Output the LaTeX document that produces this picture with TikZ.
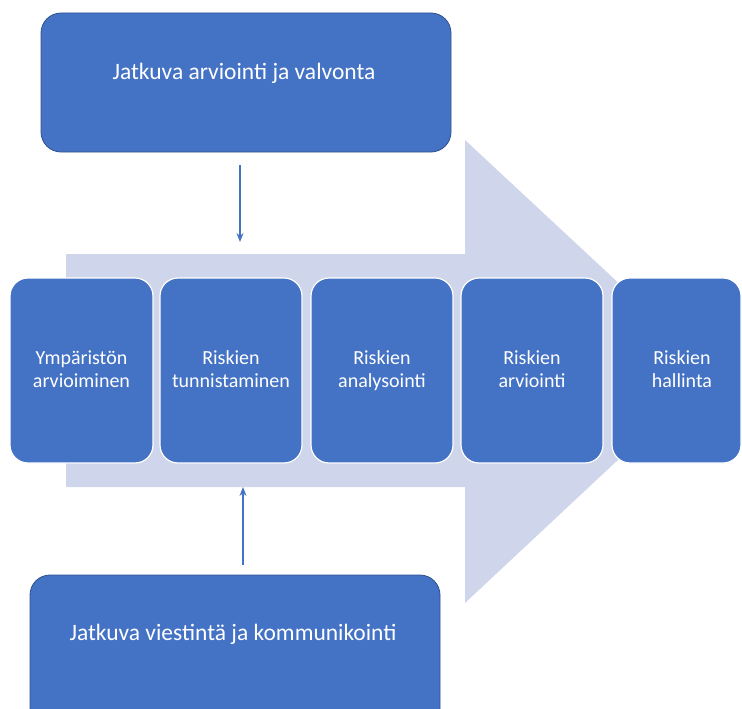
\documentclass[tikz,border=0pt]{standalone}
\usepackage{fontspec}
\setmainfont{Carlito}
\usetikzlibrary{arrows.meta}
\definecolor{boxblue}{HTML}{4472C4}
\definecolor{boxedge}{HTML}{2F528F}
\definecolor{arrowfill}{HTML}{CFD5EA}
\begin{document}
\begin{tikzpicture}[x=1pt,y=-1pt,
  bigbox/.style={fill=boxblue,draw=boxedge,line width=0.8pt,rounded corners=20pt},
  stepbox/.style={fill=boxblue,draw=white,line width=1.2pt,rounded corners=18pt},
  steptext/.style={text=white,font=\fontsize{20}{23}\selectfont,align=center},
  bigtext/.style={text=white,font=\fontsize{23.5}{28}\selectfont},
  conn/.style={draw=boxblue,line width=1.2pt,-{Stealth[length=9pt,width=7pt]}}]
\useasboundingbox (0,0) rectangle (742,709);
\begin{scope}
\clip (0,0) rectangle (742,709);
% big background arrow
\fill[arrowfill] (66,254) -- (465,254) -- (465,140) -- (713,371) -- (465,603) -- (465,487) -- (66,487) -- cycle;
% top box
\draw[bigbox] (41,13) rectangle (451,152);
\node[bigtext] (topt) at (244,73) {Jatkuva arviointi ja valvonta};
\coordinate (topb) at (240,165);
% bottom box
\draw[bigbox] (30,575) rectangle (440,730);
\node[bigtext] (bott) at (233,634) {Jatkuva viestintä ja kommunikointi};
\coordinate (botb) at (243,565);
% step boxes
\draw[stepbox] (10,278) rectangle (153,463);
\draw[stepbox] (160,278) rectangle (302,463);
\draw[stepbox] (311,278) rectangle (453,463);
\draw[stepbox] (461,278) rectangle (603,463);
\draw[stepbox] (612,278) rectangle (741,463);
\node[steptext] (s1) at (81.5,371) {\strut Ympäristön\\\strut arvioiminen};
\node[steptext] (s2) at (231,371) {\strut Riskien\\\strut tunnistaminen};
\node[steptext] (s3) at (382,371) {\strut Riskien\\\strut analysointi};
\node[steptext] (s4) at (532,371) {\strut Riskien\\\strut arviointi};
\node[steptext] (s5) at (682,371) {\strut Riskien\\\strut hallinta};
\coordinate (topend) at (240,242);
\coordinate (botend) at (243,487);
\draw[conn] (topb) -- (topend);
\draw[conn] (botb) -- (botend);
\end{scope}
\end{tikzpicture}
\end{document}
